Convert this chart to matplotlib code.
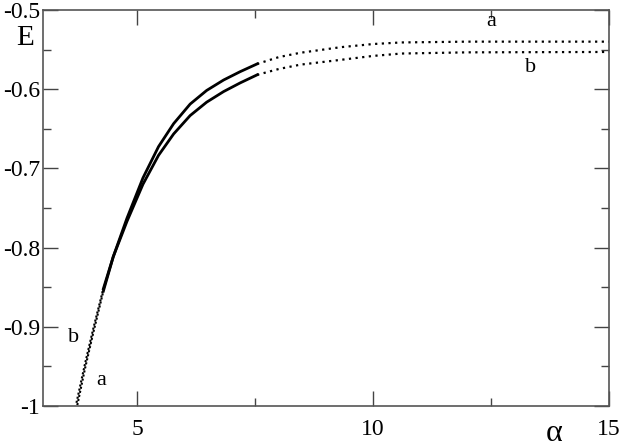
import matplotlib
matplotlib.use('Agg')
import matplotlib.pyplot as plt
from matplotlib.ticker import MultipleLocator

# curves a and b, solid part
alpha = [3.71, 3.89, 4.07, 4.28, 4.49, 4.78, 5.12, 5.45, 5.77, 6.12, 6.47, 6.83, 7.18, 7.54]
E_a = [-1.004, -0.953, -0.9065, -0.855, -0.8115, -0.763, -0.712, -0.6725,
       -0.6435, -0.6188, -0.6016, -0.5884, -0.5779, -0.5681]
E_b = [-0.996, -0.947, -0.9015, -0.852, -0.8115, -0.767, -0.720, -0.6835,
       -0.6565, -0.6333, -0.6164, -0.603, -0.5921, -0.5819]

# dotted continuations
alpha_tail = [7.54, 8.0, 8.46, 9.31, 10.0, 10.6, 12.0, 15.0]
E_a_tail = [-0.5681, -0.5595, -0.554, -0.547, -0.543, -0.541, -0.540, -0.540]
E_b_tail = [-0.5819, -0.5745, -0.569, -0.563, -0.558, -0.555, -0.5535, -0.553]

yticks = [-1, -0.9, -0.8, -0.7, -0.6, -0.5]
ylabels = ['-1', '-0.9', '-0.8', '-0.7', '-0.6', '-0.5']
xticks = [5, 10, 15]

plt.rcParams['font.family'] = ['Liberation Serif', 'DejaVu Serif']
plt.rcParams['axes.unicode_minus'] = False

fig = plt.figure(figsize=(6.21, 4.47), dpi=100)
ax = fig.add_axes([0.0692, 0.0917, 0.9115, 0.886])

n = 3  # bottom part drawn dotted
for E in (E_a, E_b):
    ax.plot(alpha[:n + 1], E[:n + 1], color='black', lw=1.5, ls=(0, (1, 1)))
    ax.plot(alpha[n:], E[n:], color='black', lw=2)
ax.plot(alpha_tail, E_a_tail, color='black', lw=1.6, ls=(0, (1, 2)))
ax.plot(alpha_tail, E_b_tail, color='black', lw=1.6, ls=(0, (1, 2)))

ax.set_xlim(3, 15)
ax.set_ylim(-1, -0.5)
ax.set_xticks(xticks)
ax.set_yticks(yticks)
ax.set_yticklabels(ylabels)
ax.xaxis.set_minor_locator(MultipleLocator(2.5))
ax.yaxis.set_minor_locator(MultipleLocator(0.05))
ax.tick_params(which='both', direction='in', top=True, right=True,
               labelsize=17, color='#444444', width=1)
ax.tick_params(which='major', length=11)
ax.tick_params(which='minor', length=6)
ax.tick_params(axis='x', pad=9)
ax.tick_params(axis='y', pad=2)
for s in ax.spines.values():
    s.set_color('#555555')
    s.set_linewidth(1.2)

fig.text(0.04, 0.915, 'E', fontsize=21, ha='center', va='center')
fig.text(0.893, 0.03, 'α', fontsize=23, ha='center', va='center')

ax.text(12.5, -0.515, 'a', fontsize=16, ha='center', va='center')
ax.text(13.34, -0.573, 'b', fontsize=16, ha='center', va='center')
ax.text(3.64, -0.913, 'b', fontsize=16, ha='center', va='center')
ax.text(4.23, -0.968, 'a', fontsize=16, ha='center', va='center')

fig.savefig('out.png', dpi=100)
